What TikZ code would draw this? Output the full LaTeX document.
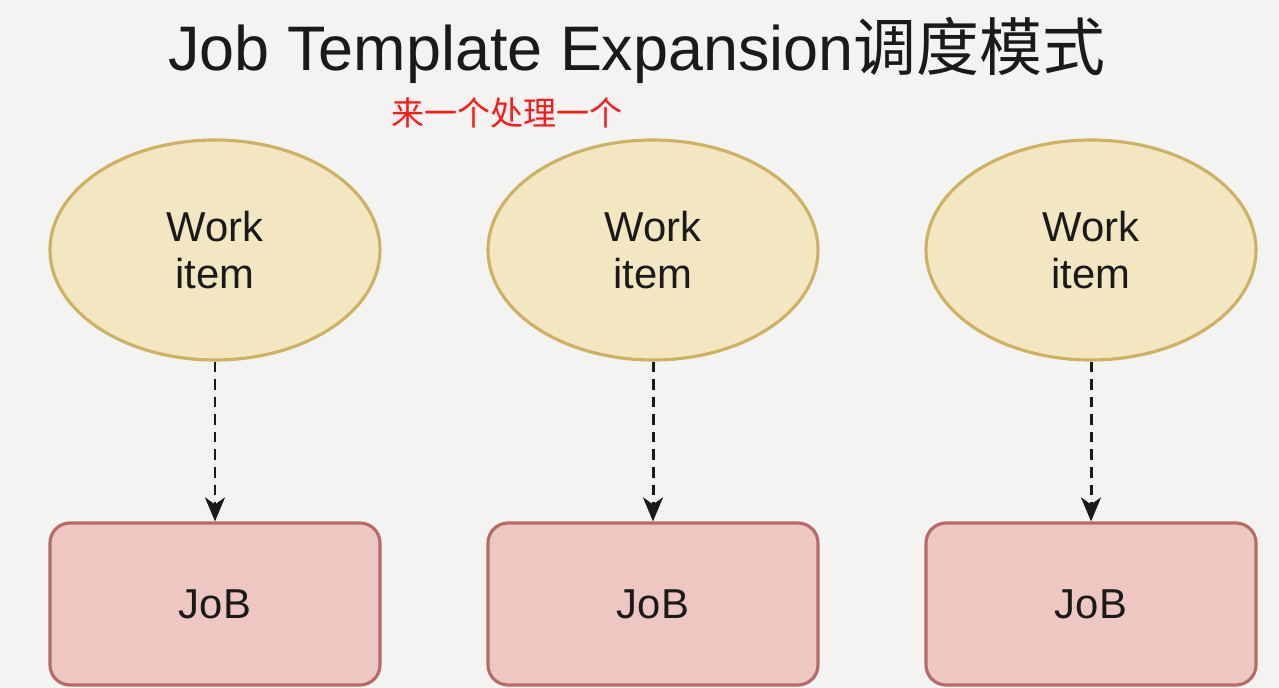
\documentclass[tikz,border=0pt]{standalone}
\usepackage{fontspec}
\setmainfont{Liberation Sans}
\newfontfamily\cjk{Noto Sans CJK SC}
\usetikzlibrary{positioning,shapes,arrows.meta}

\definecolor{bgcol}{HTML}{F3F4F2}
\definecolor{itemfill}{HTML}{F3E7C2}
\definecolor{itemline}{HTML}{CDB262}
\definecolor{jobfill}{HTML}{EEC6C2}
\definecolor{jobline}{HTML}{B86A66}
\definecolor{notered}{HTML}{FF1A1A}
\definecolor{ink}{HTML}{1A1A1A}

\tikzset{
  workitem/.style={ellipse, draw=itemline, fill=itemfill, line width=0.9pt,
    minimum width=3.3cm, minimum height=2.2cm, inner sep=0pt, align=center,
    text=ink, font=\fontsize{11.9}{13.4}\selectfont},
  jobbox/.style={rectangle, rounded corners=0.2cm, draw=jobline, fill=jobfill,
    line width=0.9pt, minimum width=3.3cm, minimum height=1.62cm,
    text=ink, font=\fontsize{11.9}{14}\selectfont},
  spawn/.style={dashed, dash pattern=on 3pt off 2pt, line width=0.85pt, draw=ink,
    -{Stealth[length=0.24cm, width=0.2cm, inset=0.07cm]}}
}

\begin{document}
\begin{tikzpicture}
\useasboundingbox[fill=bgcol] (0, 0) rectangle (12.79, -6.88);

\node[text=ink] (title) at (6.37, -0.50) {\fontsize{17.9}{20}\selectfont Job Template Expansion{\cjk 调度模式}};
\node[text=notered] (note) at (5.07, -1.13) {\fontsize{9.4}{11}\selectfont\cjk 来一个处理一个};

\node[workitem] (W1) at (2.15, -2.50) {Work\\item};
\node[workitem] (W2) at (6.53, -2.50) {Work\\item};
\node[workitem] (W3) at (10.91, -2.50) {Work\\item};

\node[jobbox] (J1) at (2.15, -6.04) {\raisebox{-2pt}{JoB}};
\node[jobbox] (J2) at (6.53, -6.04) {\raisebox{-2pt}{JoB}};
\node[jobbox] (J3) at (10.91, -6.04) {\raisebox{-2pt}{JoB}};

\draw[spawn] (W1) -- (J1);
\draw[spawn] (W2) -- (J2);
\draw[spawn] (W3) -- (J3);
\end{tikzpicture}
\end{document}
